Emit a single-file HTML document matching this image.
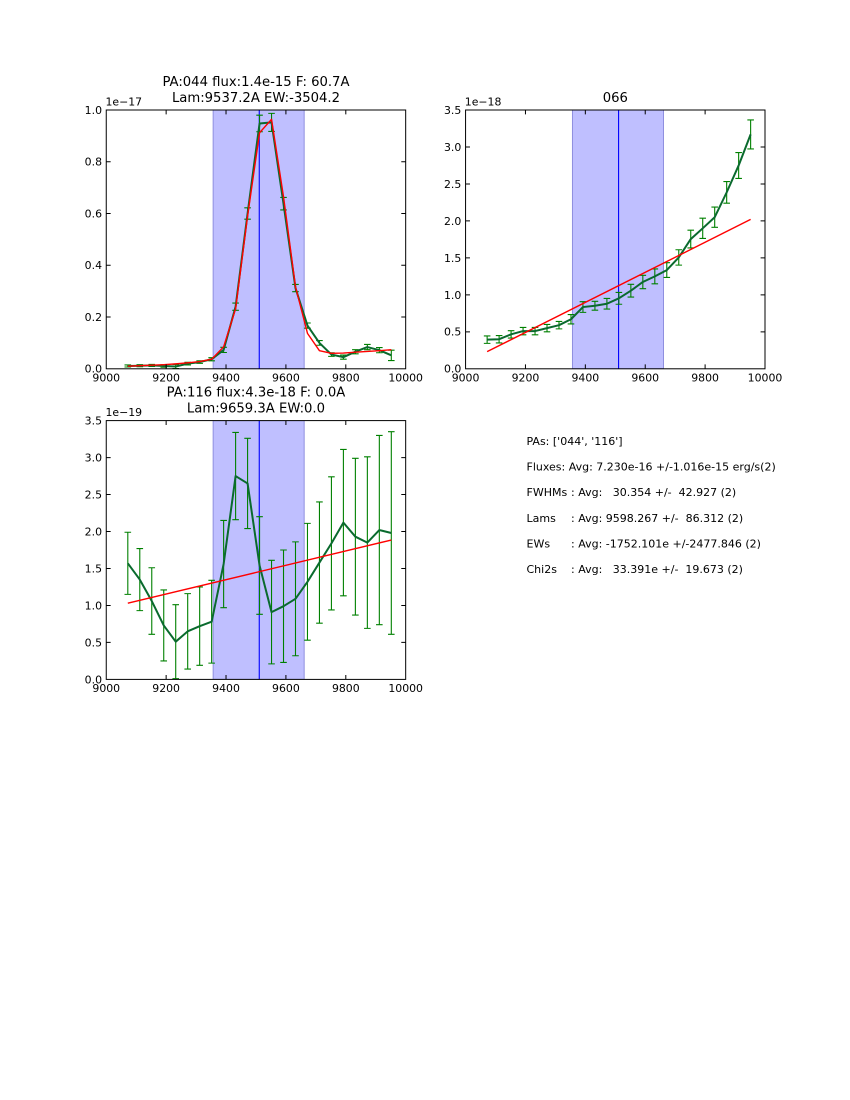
<!DOCTYPE html>
<html>
<head>
<meta charset="utf-8">
<style>
  html,body{margin:0;padding:0;background:#fff;}
  body{width:850px;height:1100px;overflow:hidden;}
  svg{position:absolute;left:0;top:0;}
  text{font-family:"DejaVu Sans","Liberation Sans",sans-serif;fill:#000;}
  .tk{font-size:10.9px;}
  .ttl{font-size:13.2px;}
  .info{font-size:11px;white-space:pre;}
  .ns{vector-effect:non-scaling-stroke;}
</style>
</head>
<body>
<svg width="850" height="1100" viewBox="0 0 850 1100" xmlns="http://www.w3.org/2000/svg">
  <defs>
    <clipPath id="c1"><rect x="106.25" y="110" width="299.43" height="258.8"/></clipPath>
    <clipPath id="c2"><rect x="465.57" y="110" width="299.43" height="258.8"/></clipPath>
    <clipPath id="c3"><rect x="106.25" y="420.6" width="299.43" height="258.8"/></clipPath>
  </defs>

  <!-- ================= PLOT 1 ================= -->
  <g clip-path="url(#c1)">
    <g transform="translate(106.25,368.8) scale(0.29943,-258.8)">
      <rect x="357" y="0" width="304" height="1" fill="#bfbfff" stroke="#8f8fdf" stroke-width="1" class="ns"/>
      <path class="ns" d="M511,0V1" stroke="#0000ff" stroke-width="1.1" fill="none"/>
      <path class="ns" fill="none" stroke="#008000" stroke-width="1.1"
        d="M72,0.007V0.015M61,0.007H83M61,0.015H83
           M112,0.008V0.016M101,0.008H123M101,0.016H123
           M152,0.009V0.017M141,0.009H163M141,0.017H163
           M192,0.006V0.016M181,0.006H203M181,0.016H203
           M232,0.001V0.017M221,0.001H243M221,0.017H243
           M272,0.015V0.025M261,0.015H283M261,0.025H283
           M312,0.021V0.031M301,0.021H323M301,0.031H323
           M352,0.031V0.043M341,0.031H363M341,0.043H363
           M392,0.063V0.083M381,0.063H403M381,0.083H403
           M432,0.226V0.254M421,0.226H443M421,0.254H443
           M472,0.578V0.622M461,0.578H483M461,0.622H483
           M512,0.916V0.980M501,0.916H523M501,0.980H523
           M552,0.917V0.987M541,0.917H563M541,0.987H563
           M592,0.614V0.662M581,0.614H603M581,0.662H603
           M632,0.298V0.326M621,0.298H643M621,0.326H643
           M672,0.157V0.177M661,0.157H683M661,0.177H683
           M712,0.091V0.109M701,0.091H723M701,0.109H723
           M752,0.048V0.062M741,0.048H763M741,0.062H763
           M792,0.037V0.053M781,0.037H803M781,0.053H803
           M832,0.058V0.074M821,0.058H843M821,0.074H843
           M872,0.074V0.094M861,0.074H883M861,0.094H883
           M912,0.062V0.082M901,0.062H923M901,0.082H923
           M952,0.032V0.072M941,0.032H963M941,0.072H963"/>
      <polyline class="ns" fill="none" stroke="#0a6a2e" stroke-width="2" stroke-linejoin="round"
        points="72,0.011 112,0.012 152,0.013 192,0.011 232,0.009 272,0.020 312,0.026 352,0.037 392,0.073 432,0.240 472,0.600 512,0.948 552,0.952 592,0.638 632,0.312 672,0.167 712,0.100 752,0.055 792,0.045 832,0.066 872,0.084 912,0.072 952,0.052"/>
      <polyline class="ns" fill="none" stroke="#ff0000" stroke-width="1.4" stroke-linejoin="round"
        points="72,0.010 112,0.012 152,0.014 192,0.016 232,0.019 272,0.023 312,0.028 352,0.037 392,0.085 432,0.232 472,0.590 512,0.912 552,0.964 592,0.665 632,0.317 672,0.137 712,0.070 752,0.060 792,0.061 832,0.064 872,0.067 912,0.070 952,0.074"/>
    </g>
  </g>
  <rect x="106.25" y="110" width="299.43" height="258.8" fill="none" stroke="#000" stroke-width="1"/>
  <path fill="none" stroke="#000" stroke-width="1"
    d="M166.14,368.8v-4.4M226.02,368.8v-4.4M285.91,368.8v-4.4M345.80,368.8v-4.4
       M166.14,110v4.4M226.02,110v4.4M285.91,110v4.4M345.80,110v4.4
       M106.25,317.04h4.4M106.25,265.28h4.4M106.25,213.52h4.4M106.25,161.76h4.4
       M405.68,317.04h-4.4M405.68,265.28h-4.4M405.68,213.52h-4.4M405.68,161.76h-4.4"/>
  <g class="tk" text-anchor="middle">
    <text x="106.25" y="381.5">9000</text>
    <text x="166.14" y="381.5">9200</text>
    <text x="226.02" y="381.5">9400</text>
    <text x="285.91" y="381.5">9600</text>
    <text x="345.80" y="381.5">9800</text>
    <text x="405.68" y="381.5">10000</text>
  </g>
  <g class="tk" text-anchor="end">
    <text x="102" y="372.7">0.0</text>
    <text x="102" y="320.9">0.2</text>
    <text x="102" y="269.2">0.4</text>
    <text x="102" y="217.4">0.6</text>
    <text x="102" y="165.7">0.8</text>
    <text x="102" y="113.9">1.0</text>
  </g>
  <text class="tk" x="105.5" y="105.5">1e−17</text>
  <g class="ttl" text-anchor="middle">
    <text x="255.97" y="86">PA:044 flux:1.4e-15 F: 60.7A</text>
    <text x="255.97" y="102">Lam:9537.2A EW:-3504.2</text>
  </g>

  <!-- ================= PLOT 2 ================= -->
  <g clip-path="url(#c2)">
    <g transform="translate(465.57,368.8) scale(0.29943,-73.943)">
      <rect x="357" y="0" width="304" height="3.5" fill="#bfbfff" stroke="#8f8fdf" stroke-width="1" class="ns"/>
      <path class="ns" d="M511,0V3.5" stroke="#0000ff" stroke-width="1.1" fill="none"/>
      <path class="ns" fill="none" stroke="#008000" stroke-width="1.1"
        d="M72,0.344V0.444M61,0.344H83M61,0.444H83
           M112,0.35V0.45M101,0.35H123M101,0.45H123
           M152,0.416V0.516M141,0.416H163M141,0.516H163
           M192,0.46V0.56M181,0.46H203M181,0.56H203
           M232,0.46V0.56M221,0.46H243M221,0.56H243
           M272,0.50V0.60M261,0.50H283M261,0.60H283
           M312,0.54V0.64M301,0.54H323M301,0.64H323
           M352,0.607V0.733M341,0.607H363M341,0.733H363
           M392,0.763V0.907M381,0.763H403M381,0.907H403
           M432,0.793V0.913M421,0.793H443M421,0.913H443
           M472,0.808V0.952M461,0.808H483M461,0.952H483
           M512,0.873V1.033M501,0.873H523M501,1.033H523
           M552,0.970V1.142M541,0.970H563M541,1.142H563
           M592,1.084V1.264M581,1.084H603M581,1.264H603
           M632,1.15V1.35M621,1.15H643M621,1.35H643
           M672,1.235V1.435M661,1.235H683M661,1.435H683
           M712,1.402V1.610M701,1.402H723M701,1.610H723
           M752,1.634V1.874M741,1.634H763M741,1.874H763
           M792,1.763V2.037M781,1.763H803M781,2.037H803
           M832,1.913V2.187M821,1.913H843M821,2.187H843
           M872,2.240V2.532M861,2.240H883M861,2.532H883
           M912,2.575V2.925M901,2.575H923M901,2.925H923
           M952,2.974V3.366M941,2.974H963M941,3.366H963"/>
      <polyline class="ns" fill="none" stroke="#0a6a2e" stroke-width="2" stroke-linejoin="round"
        points="72,0.394 112,0.40 152,0.466 192,0.51 232,0.51 272,0.55 312,0.59 352,0.67 392,0.835 432,0.853 472,0.88 512,0.953 552,1.056 592,1.174 632,1.25 672,1.335 712,1.506 752,1.754 792,1.90 832,2.05 872,2.386 912,2.75 952,3.17"/>
      <polyline class="ns" fill="none" stroke="#ff0000" stroke-width="1.4"
        points="72,0.232 952,2.02"/>
    </g>
  </g>
  <rect x="465.57" y="110" width="299.43" height="258.8" fill="none" stroke="#000" stroke-width="1"/>
  <path fill="none" stroke="#000" stroke-width="1"
    d="M525.46,368.8v-4.4M585.34,368.8v-4.4M645.23,368.8v-4.4M705.11,368.8v-4.4
       M525.46,110v4.4M585.34,110v4.4M645.23,110v4.4M705.11,110v4.4
       M465.57,331.83h4.4M465.57,294.86h4.4M465.57,257.89h4.4M465.57,220.91h4.4M465.57,183.94h4.4M465.57,146.97h4.4
       M765,331.83h-4.4M765,294.86h-4.4M765,257.89h-4.4M765,220.91h-4.4M765,183.94h-4.4M765,146.97h-4.4"/>
  <g class="tk" text-anchor="middle">
    <text x="465.57" y="381.5">9000</text>
    <text x="525.46" y="381.5">9200</text>
    <text x="585.34" y="381.5">9400</text>
    <text x="645.23" y="381.5">9600</text>
    <text x="705.11" y="381.5">9800</text>
    <text x="765" y="381.5">10000</text>
  </g>
  <g class="tk" text-anchor="end">
    <text x="461.3" y="372.7">0.0</text>
    <text x="461.3" y="335.7">0.5</text>
    <text x="461.3" y="298.8">1.0</text>
    <text x="461.3" y="261.8">1.5</text>
    <text x="461.3" y="224.8">2.0</text>
    <text x="461.3" y="187.8">2.5</text>
    <text x="461.3" y="150.9">3.0</text>
    <text x="461.3" y="113.9">3.5</text>
  </g>
  <text class="tk" x="464.8" y="105.5">1e−18</text>
  <text class="ttl" x="615.3" y="102" text-anchor="middle">066</text>

  <!-- ================= PLOT 3 ================= -->
  <g clip-path="url(#c3)">
    <g transform="translate(106.25,679.4) scale(0.29943,-73.943)">
      <rect x="357" y="0" width="304" height="3.5" fill="#bfbfff" stroke="#8f8fdf" stroke-width="1" class="ns"/>
      <path class="ns" d="M511,0V3.5" stroke="#0000ff" stroke-width="1.1" fill="none"/>
      <path class="ns" fill="none" stroke="#008000" stroke-width="1.1"
        d="M72,1.15V1.99M61,1.15H83M61,1.99H83
           M112,0.93V1.77M101,0.93H123M101,1.77H123
           M152,0.61V1.51M141,0.61H163M141,1.51H163
           M192,0.25V1.21M181,0.25H203M181,1.21H203
           M232,0.01V1.01M221,0.01H243M221,1.01H243
           M272,0.14V1.16M261,0.14H283M261,1.16H283
           M312,0.19V1.25M301,0.19H323M301,1.25H323
           M352,0.22V1.34M341,0.22H363M341,1.34H363
           M392,0.97V2.15M381,0.97H403M381,2.15H403
           M432,2.16V3.34M421,2.16H443M421,3.34H443
           M472,2.04V3.26M461,2.04H483M461,3.26H483
           M512,0.88V2.20M501,0.88H523M501,2.20H523
           M552,0.21V1.61M541,0.21H563M541,1.61H563
           M592,0.23V1.75M581,0.23H603M581,1.75H603
           M632,0.32V1.86M621,0.32H643M621,1.86H643
           M672,0.53V2.11M661,0.53H683M661,2.11H683
           M712,0.76V2.40M701,0.76H723M701,2.40H723
           M752,0.94V2.74M741,0.94H763M741,2.74H763
           M792,1.13V3.11M781,1.13H803M781,3.11H803
           M832,0.87V2.99M821,0.87H843M821,2.99H843
           M872,0.69V3.01M861,0.69H883M861,3.01H883
           M912,0.74V3.30M901,0.74H923M901,3.30H923
           M952,0.61V3.35M941,0.61H963M941,3.35H963"/>
      <polyline class="ns" fill="none" stroke="#0a6a2e" stroke-width="2" stroke-linejoin="round"
        points="72,1.57 112,1.35 152,1.06 192,0.73 232,0.51 272,0.65 312,0.72 352,0.78 392,1.56 432,2.75 472,2.65 512,1.54 552,0.91 592,0.99 632,1.09 672,1.32 712,1.58 752,1.84 792,2.12 832,1.93 872,1.85 912,2.02 952,1.98"/>
      <polyline class="ns" fill="none" stroke="#ff0000" stroke-width="1.4"
        points="72,1.03 952,1.885"/>
    </g>
  </g>
  <rect x="106.25" y="420.6" width="299.43" height="258.8" fill="none" stroke="#000" stroke-width="1"/>
  <path fill="none" stroke="#000" stroke-width="1"
    d="M166.14,679.4v-4.4M226.02,679.4v-4.4M285.91,679.4v-4.4M345.80,679.4v-4.4
       M166.14,420.6v4.4M226.02,420.6v4.4M285.91,420.6v4.4M345.80,420.6v4.4
       M106.25,642.43h4.4M106.25,605.46h4.4M106.25,568.49h4.4M106.25,531.51h4.4M106.25,494.54h4.4M106.25,457.57h4.4
       M405.68,642.43h-4.4M405.68,605.46h-4.4M405.68,568.49h-4.4M405.68,531.51h-4.4M405.68,494.54h-4.4M405.68,457.57h-4.4"/>
  <g class="tk" text-anchor="middle">
    <text x="106.25" y="692">9000</text>
    <text x="166.14" y="692">9200</text>
    <text x="226.02" y="692">9400</text>
    <text x="285.91" y="692">9600</text>
    <text x="345.80" y="692">9800</text>
    <text x="405.68" y="692">10000</text>
  </g>
  <g class="tk" text-anchor="end">
    <text x="102" y="683.3">0.0</text>
    <text x="102" y="646.3">0.5</text>
    <text x="102" y="609.4">1.0</text>
    <text x="102" y="572.4">1.5</text>
    <text x="102" y="535.4">2.0</text>
    <text x="102" y="498.4">2.5</text>
    <text x="102" y="461.5">3.0</text>
    <text x="102" y="424.5">3.5</text>
  </g>
  <text class="tk" x="105.5" y="416">1e−19</text>
  <g class="ttl" text-anchor="middle">
    <text x="255.97" y="396.5">PA:116 flux:4.3e-18 F: 0.0A</text>
    <text x="255.97" y="412.5">Lam:9659.3A EW:0.0</text>
  </g>

  <!-- ================= INFO TEXT ================= -->
  <g class="info">
    <text x="526.5" y="445">PAs: ['044', '116']</text>
    <text x="526.5" y="470.6">Fluxes: Avg: 7.230e-16 +/-1.016e-15 erg/s(2)</text>
    <text x="526.5" y="496.2">FWHMs</text>
    <text x="571" y="496.2">: Avg:&#160;&#160; 30.354 +/-&#160; 42.927 (2)</text>
    <text x="526.5" y="521.8">Lams</text>
    <text x="571" y="521.8">: Avg: 9598.267 +/-&#160; 86.312 (2)</text>
    <text x="526.5" y="547.4">EWs</text>
    <text x="571" y="547.4">: Avg: -1752.101e +/-2477.846 (2)</text>
    <text x="526.5" y="573">Chi2s</text>
    <text x="571" y="573">: Avg:&#160;&#160; 33.391e +/-&#160; 19.673 (2)</text>
  </g>
</svg>
</body>
</html>
